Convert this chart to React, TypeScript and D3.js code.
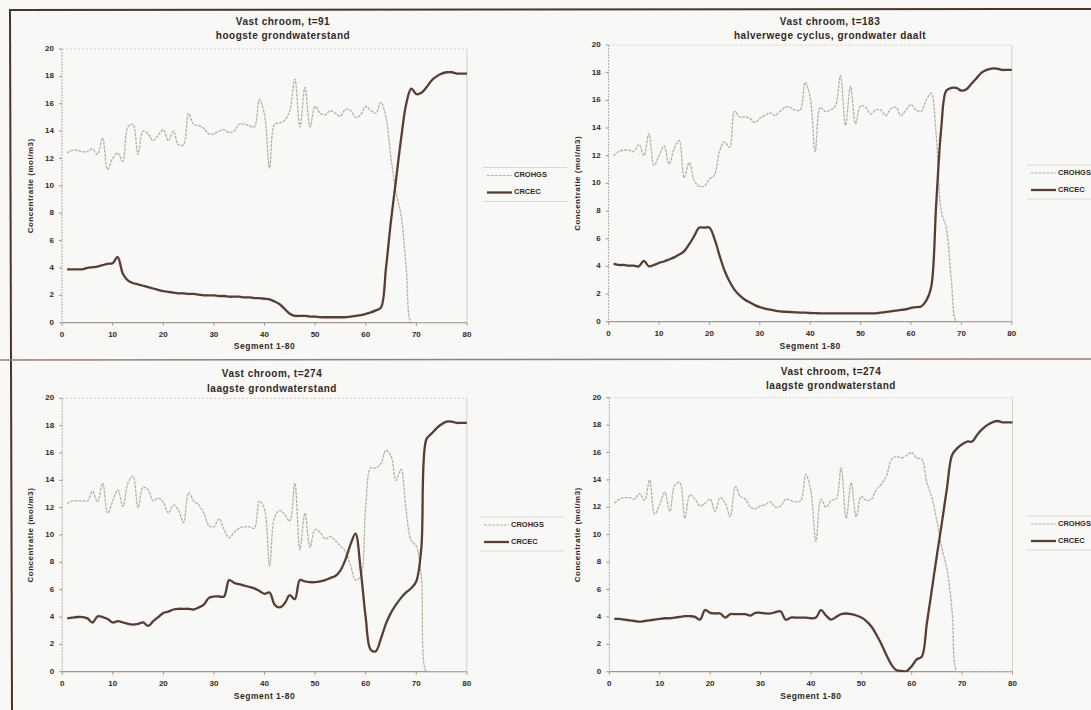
import React from "react";
import * as d3 from "d3";

// ---------- data ----------
const SEGMENTS = d3.range(1, 81);
const X_TICKS = [0, 10, 20, 30, 40, 50, 60, 70, 80];
const Y_TICKS = [0, 2, 4, 6, 8, 10, 12, 14, 16, 18, 20];
const SERIES_NAMES = ["CROHGS", "CRCEC"];
const TITLES_1 = ["Vast chroom, t=91", "Vast chroom, t=183", "Vast chroom, t=274", "Vast chroom, t=274"];
const TITLES_2 = ["hoogste grondwaterstand", "halverwege cyclus, grondwater daalt", "laagste grondwaterstand", "laagste grondwaterstand"];
const X_LABEL = "Segment 1-80";
const Y_LABEL = "Concentratie (mol/m3)";

const T91_CROHGS = [
  12.4, 12.6, 12.6, 12.5, 12.5, 12.7, 12.3, 13.5, 11.2, 12.0,
  12.4, 11.8, 14.3, 14.5, 12.3, 14.0, 13.8, 13.3, 13.7, 14.1,
  13.3, 14.0, 13.0, 13.0, 15.3, 14.5, 14.4, 14.2, 13.8, 13.8,
  14.0, 14.1, 13.9, 14.0, 14.5, 14.5, 14.4, 14.3, 16.3, 15.2,
  11.3, 14.5, 14.6, 14.8, 15.5, 17.8, 14.3, 17.2, 14.3, 15.8,
  15.3, 15.2, 15.5, 15.3, 15.1, 15.6, 15.5, 15.0, 15.2, 15.8,
  15.5, 15.3, 16.1, 15.0, 12.0, 9.5, 7.8, 4.0, 0, 0,
  0, 0, 0, 0, 0, 0, 0, 0, 0, 0,
];
const T91_CRCEC = [
  3.9, 3.9, 3.9, 3.9, 4.0, 4.05, 4.1, 4.2, 4.3, 4.35,
  4.8, 3.6, 3.1, 2.9, 2.8, 2.7, 2.6, 2.5, 2.4, 2.3,
  2.25, 2.2, 2.15, 2.15, 2.1, 2.1, 2.05, 2.0, 2.0, 2.0,
  1.95, 1.95, 1.9, 1.9, 1.9, 1.85, 1.85, 1.8, 1.8, 1.75,
  1.7, 1.55, 1.35, 1.0, 0.65, 0.5, 0.5, 0.5, 0.45, 0.45,
  0.4, 0.4, 0.4, 0.4, 0.4, 0.4, 0.45, 0.5, 0.55, 0.65,
  0.75, 0.9, 1.1, 4.0, 7.5, 10.5, 13.5, 16.0, 17.1, 16.7,
  16.8, 17.2, 17.7, 18.0, 18.2, 18.3, 18.3, 18.2, 18.2, 18.2,
];

const T183_CROHGS = [
  12.0, 12.3, 12.4, 12.4, 12.3, 12.8, 12.0, 13.6, 11.3, 12.0,
  12.7, 11.4, 12.5, 13.1, 10.4, 11.5, 10.2, 9.8, 9.8, 10.3,
  10.6, 12.3, 13.0, 12.6, 15.2, 14.8, 14.8, 14.7, 14.4, 14.7,
  14.9, 15.1, 14.9, 15.2, 15.5, 15.5, 15.3, 15.3, 17.3, 16.2,
  12.3, 15.5, 15.2, 15.3, 15.6, 17.8, 14.2, 17.0, 14.3, 15.6,
  15.5, 15.0, 15.3, 15.3, 14.9, 15.4, 15.5, 14.9, 15.3, 15.7,
  15.3, 15.2, 16.0, 16.5, 13.5, 8.0, 6.8, 3.0, 0, 0,
  0, 0, 0, 0, 0, 0, 0, 0, 0, 0,
];
const T183_CRCEC = [
  4.2, 4.1, 4.1, 4.05, 4.05, 4.0, 4.4, 4.0, 4.1, 4.25,
  4.35, 4.5, 4.65, 4.85, 5.1, 5.6, 6.2, 6.8, 6.8, 6.8,
  6.0, 4.8, 3.7, 2.9, 2.3, 1.9, 1.6, 1.4, 1.2, 1.05,
  0.95, 0.87, 0.8, 0.75, 0.72, 0.7, 0.68, 0.66, 0.65, 0.63,
  0.62, 0.6, 0.6, 0.6, 0.6, 0.6, 0.6, 0.6, 0.6, 0.6,
  0.6, 0.6, 0.6, 0.65, 0.7, 0.75, 0.8, 0.85, 0.9, 1.0,
  1.05, 1.1, 1.5, 2.5, 8.5, 14.0, 16.7, 16.9, 16.9, 16.7,
  16.8, 17.2, 17.6, 18.0, 18.2, 18.3, 18.3, 18.2, 18.2, 18.2,
];

const T274A_CROHGS = [
  12.3, 12.5, 12.5, 12.5, 12.5, 13.2, 12.4, 13.8, 11.6, 12.5,
  13.3, 12.1, 13.8, 14.3, 12.0, 13.5, 13.3, 12.5, 12.7, 12.4,
  11.6, 12.2, 11.8, 10.9, 13.1, 12.5, 12.2, 11.6, 10.7, 10.6,
  11.2, 10.4, 9.8, 10.2, 10.5, 10.6, 10.6, 10.5, 12.5, 11.9,
  7.7, 11.3, 11.8, 11.5, 11.0, 13.8, 8.9, 11.6, 9.1, 10.4,
  10.2, 9.7, 9.9, 9.6, 9.2, 8.8, 7.8, 6.7, 7.0, 12.0,
  14.9, 14.9, 15.2, 16.2, 15.8, 14.0, 14.8, 11.8, 9.6, 9.2,
  7.0, 0, 0, 0, 0, 0, 0, 0, 0, 0,
];
const T274A_CRCEC = [
  3.9, 3.95, 4.0, 4.0, 3.9, 3.6, 4.05, 4.0, 3.85, 3.6,
  3.7, 3.6, 3.5, 3.45, 3.5, 3.6, 3.35, 3.7, 4.0, 4.3,
  4.4, 4.55, 4.6, 4.6, 4.6, 4.55, 4.7, 4.9, 5.4, 5.5,
  5.5, 5.5, 6.7, 6.5, 6.4, 6.3, 6.2, 6.1, 5.9, 5.7,
  5.8, 4.9, 4.7, 5.0, 5.6, 5.3, 6.7, 6.6, 6.55, 6.55,
  6.6, 6.7, 6.85, 7.0, 7.4, 8.2, 9.3, 10.1, 7.5, 4.0,
  1.6, 1.5, 2.4, 3.5, 4.3, 4.9, 5.4, 5.8, 6.1, 6.6,
  9.0, 17.0, 17.4, 17.8, 18.1, 18.3, 18.3, 18.2, 18.2, 18.2,
];

const T274B_CROHGS = [
  12.3, 12.6, 12.7, 12.7, 12.6, 13.0, 12.5, 14.0, 11.5, 12.2,
  13.1, 11.7, 13.6, 13.8, 11.2, 12.9, 12.6, 12.1, 12.3, 12.6,
  11.7, 12.7, 12.3, 11.3, 13.5, 12.8, 12.6, 12.0, 11.9, 12.1,
  12.2, 12.4, 12.0, 12.1, 12.6, 12.5, 12.4, 12.5, 14.4, 13.2,
  9.5, 12.6, 12.0, 12.5, 12.6, 14.9, 11.2, 13.8, 11.3, 12.8,
  12.5, 12.6, 13.3, 13.7, 14.3, 15.5, 15.7, 15.6, 15.8, 16.0,
  15.6, 15.5, 13.8, 12.7, 11.0, 9.0, 7.5, 4.5, 0, 0,
  0, 0, 0, 0, 0, 0, 0, 0, 0, 0,
];
const T274B_CRCEC = [
  3.85, 3.85, 3.8, 3.75, 3.7, 3.65, 3.7, 3.75, 3.8, 3.85,
  3.9, 3.9, 3.95, 4.0, 4.05, 4.05, 4.0, 3.8, 4.5, 4.3,
  4.25, 4.25, 3.95, 4.2, 4.2, 4.2, 4.2, 4.1, 4.3, 4.3,
  4.25, 4.25, 4.35, 4.4, 3.8, 3.95, 3.95, 3.95, 3.95, 3.9,
  3.95, 4.5, 4.1, 3.8, 4.0, 4.2, 4.25, 4.2, 4.1, 3.95,
  3.7, 3.3, 2.7, 2.0, 1.2, 0.5, 0.1, 0.05, 0.05, 0.4,
  0.9, 1.1, 3.5, 6.0, 8.5, 10.9, 13.4, 15.8, 16.3, 16.6,
  16.8, 16.8, 17.3, 17.7, 18.0, 18.2, 18.3, 18.2, 18.2, 18.2,
];

const CROHGS_SERIES = [T91_CROHGS, T183_CROHGS, T274A_CROHGS, T274B_CROHGS];
const CRCEC_SERIES = [T91_CRCEC, T183_CRCEC, T274A_CRCEC, T274B_CRCEC];

// ---------- layout (positions only) ----------
const LAYOUT = [
  { x0: 62, x1: 467, yb: 322.7, yt: 49, tx: 283, t1: 22, t2: 36, ytx: 31, xty: 347, lx: 487, ly: 175.5 },
  { x0: 608.6, x1: 1011.8, yb: 321.7, yt: 45, tx: 830, t1: 22.5, t2: 36, ytx: 578, xty: 347, lx: 1031, ly: 173 },
  { x0: 62.2, x1: 466.8, yb: 671.7, yt: 398.3, tx: 272, t1: 374.5, t2: 389, ytx: 31, xty: 697, lx: 484, ly: 525 },
  { x0: 609.3, x1: 1012.5, yb: 671.7, yt: 397.7, tx: 831, t1: 372, t2: 386, ytx: 578, xty: 697, lx: 1031, ly: 524 },
];

const FONT = "'Liberation Sans', Arial, Helvetica, sans-serif";
const TEXT_COLOR = "#33291f";
const CRCEC_COLOR = "#5a3d2e";
const CROHGS_COLOR = "#b8b1a3";
const AXIS_COLOR = "#9d978c";

function Panel({ i }: { i: number }) {
  const L = LAYOUT[i];
  const x = d3.scaleLinear().domain([0, 80]).range([L.x0, L.x1]);
  const y = d3.scaleLinear().domain([0, 20]).range([L.yb, L.yt]);
  const line = d3
    .line<number>()
    .x((_, k) => x(SEGMENTS[k]))
    .y((v) => y(v))
    .curve(d3.curveCatmullRom.alpha(0.5));
  const crohgs = CROHGS_SERIES[i];
  const crcec = CRCEC_SERIES[i];
  const clipId = `clip-${i}`;
  return (
    <g>
      <defs>
        <clipPath id={clipId}>
          <rect x={L.x0} y={L.yt - 5} width={L.x1 - L.x0 + 2} height={L.yb - L.yt + 5.5} />
        </clipPath>
      </defs>
      {/* titles */}
      <text x={L.tx} y={L.t1} textAnchor="middle" dominantBaseline="middle" fontSize={10} fontWeight="bold" letterSpacing={0.5} fill={TEXT_COLOR}>
        {TITLES_1[i]}
      </text>
      <text x={L.tx} y={L.t2} textAnchor="middle" dominantBaseline="middle" fontSize={10} fontWeight="bold" letterSpacing={0.5} fill={TEXT_COLOR}>
        {TITLES_2[i]}
      </text>
      {/* plot frame */}
      <line x1={L.x0} x2={L.x1} y1={L.yt} y2={L.yt} stroke="#d4d0c8" strokeWidth={1} strokeDasharray="2,2" />
      <line x1={L.x1} x2={L.x1} y1={L.yt} y2={L.yb} stroke="#d4d0c8" strokeWidth={1} />
      <line x1={L.x0} x2={L.x0} y1={L.yt} y2={L.yb} stroke="#b3ada2" strokeWidth={1} strokeDasharray="2,1" />
      <line x1={L.x0} x2={L.x1} y1={L.yb} y2={L.yb} stroke={AXIS_COLOR} strokeWidth={1.3} />
      {/* y ticks */}
      {Y_TICKS.map((t) => (
        <g key={"y" + t}>
          <line x1={L.x0 - 3} x2={L.x0} y1={y(t)} y2={y(t)} stroke={AXIS_COLOR} strokeWidth={1} />
          <text x={L.x0 - 8} y={y(t)} textAnchor="end" dominantBaseline="middle" fontSize={8} fontWeight="bold" fill={TEXT_COLOR}>
            {t}
          </text>
        </g>
      ))}
      {/* x ticks */}
      {X_TICKS.map((t) => (
        <g key={"x" + t}>
          <line x1={x(t)} x2={x(t)} y1={L.yb} y2={L.yb + 3} stroke={AXIS_COLOR} strokeWidth={1} />
          <text x={x(t)} y={L.yb + 12} textAnchor="middle" dominantBaseline="middle" fontSize={8} fontWeight="bold" fill={TEXT_COLOR}>
            {t}
          </text>
        </g>
      ))}
      {/* axis titles */}
      <text x={(L.x0 + L.x1) / 2} y={L.xty} textAnchor="middle" dominantBaseline="middle" fontSize={8.5} fontWeight="bold" letterSpacing={0.5} fill={TEXT_COLOR}>
        {X_LABEL}
      </text>
      <text
        transform={`translate(${L.ytx},${(L.yt + L.yb) / 2}) rotate(-90)`}
        textAnchor="middle"
        dominantBaseline="middle"
        fontSize={8}
        fontWeight="bold"
        letterSpacing={0.5}
        fill={TEXT_COLOR}
      >
        {Y_LABEL}
      </text>
      {/* series */}
      <g clipPath={`url(#${clipId})`}>
        <path d={line(crohgs) || ""} fill="none" stroke={CROHGS_COLOR} strokeWidth={1.3} strokeDasharray="3,1" />
        <path d={line(crcec) || ""} fill="none" stroke={CRCEC_COLOR} strokeWidth={2.3} strokeLinejoin="round" />
      </g>
      {/* legend */}
      <line x1={L.lx - 4} x2={L.lx + 80} y1={L.ly - 8} y2={L.ly - 8} stroke="#dcd8d0" strokeWidth={1} />
      <line x1={L.lx - 4} x2={L.lx + 80} y1={L.ly + 26} y2={L.ly + 26} stroke="#dcd8d0" strokeWidth={1} />
      <line x1={L.lx} x2={L.lx + 25} y1={L.ly} y2={L.ly} stroke={CROHGS_COLOR} strokeWidth={1.2} strokeDasharray="3,1" />
      <text x={L.lx + 27} y={L.ly} dominantBaseline="middle" fontSize={7.5} fontWeight="bold" fill={TEXT_COLOR}>
        {SERIES_NAMES[0]}
      </text>
      <line x1={L.lx} x2={L.lx + 25} y1={L.ly + 17} y2={L.ly + 17} stroke={CRCEC_COLOR} strokeWidth={2.3} />
      <text x={L.lx + 27} y={L.ly + 17} dominantBaseline="middle" fontSize={7.5} fontWeight="bold" fill={TEXT_COLOR}>
        {SERIES_NAMES[1]}
      </text>
    </g>
  );
}

export default function App() {
  return (
    <svg
      width={1091}
      height={710}
      style={{ position: "absolute", left: 0, top: 0, display: "block" }}
      fontFamily={FONT}
    >
      <rect x={0} y={0} width={1091} height={710} fill="#f8f8f6" />
      {/* frame lines of the scanned page */}
      <line x1={9} x2={1091} y1={10} y2={9} stroke="#4d3526" strokeWidth={2} />
      <line x1={10} x2={12} y1={9} y2={710} stroke="#4d3526" strokeWidth={2} />
      <line x1={0} x2={1091} y1={360} y2={359} stroke="#8d8278" strokeWidth={1.5} />
      {[0, 1, 2, 3].map((i) => (
        <Panel key={i} i={i} />
      ))}
    </svg>
  );
}
